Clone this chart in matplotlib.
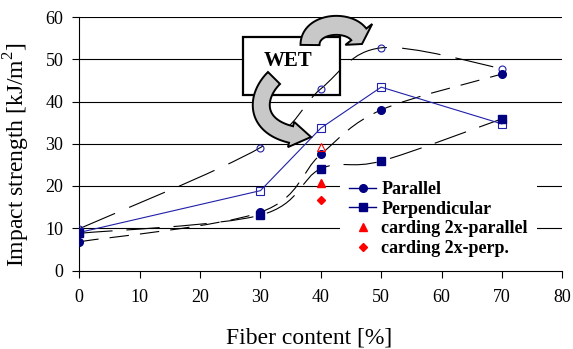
import matplotlib
matplotlib.use('Agg')
import matplotlib.pyplot as plt
import matplotlib.transforms as mtransforms
import numpy as np
from matplotlib.path import Path
from matplotlib.patches import PathPatch, Rectangle, Polygon
from matplotlib.lines import Line2D

plt.rcParams['font.family'] = ['Liberation Serif', 'DejaVu Serif']
plt.rcParams['mathtext.fontset'] = 'custom'
plt.rcParams['mathtext.rm'] = 'Liberation Serif'
plt.rcParams['lines.scale_dashes'] = False

# fiber content [%]
fiber = [0, 30, 40, 50, 70]
parallel = [6.8, 13.8, 27.5, 38.0, 46.5]
perpendicular = [8.8, 13.1, 24.1, 25.9, 35.9]
wet_parallel = [9.9, 29.1, 43.0, 52.7, 47.8]
wet_perpendicular = [9.0, 18.9, 33.7, 43.4, 34.7]

carding_x = [40]
carding_parallel = [20.6]
wet_carding_parallel = [29.3]
carding_perp = [16.7]

navy = '#000080'
blue = '#2020a8'
red = '#ff0000'

W, H = 573, 349


def smooth_path(xs, ys):
    # excel-like smoothed line (bezier through the points)
    p = np.column_stack([xs, ys]).astype(float)
    n = len(p)
    verts = [p[0]]
    codes = [Path.MOVETO]
    for i in range(n - 1):
        prev = p[i - 1] if i > 0 else p[i]
        nxt = p[i + 2] if i + 2 < n else p[i + 1]
        c1 = p[i] + (p[i + 1] - prev) / 6
        c2 = p[i + 1] - (nxt - p[i]) / 6
        verts += [c1, c2, p[i + 1]]
        codes += [Path.CURVE4] * 3
    return Path(verts, codes)


def block_arrow(pts, tail_w, head_w, head_len):
    # curved block arrow along a cubic bezier, in image pixels (y down)
    p0, c1, c2, p3 = [np.array(p, float) for p in pts]
    t = np.linspace(0, 1, 200)[:, None]
    curve = ((1 - t) ** 3 * p0 + 3 * (1 - t) ** 2 * t * c1
             + 3 * (1 - t) * t ** 2 * c2 + t ** 3 * p3)
    seg = np.linalg.norm(np.diff(curve, axis=0), axis=1)
    dist = np.concatenate([[0], np.cumsum(seg)])
    body = curve[dist <= dist[-1] - head_len]
    tang = np.gradient(body, axis=0)
    tang /= np.linalg.norm(tang, axis=1)[:, None]
    norm = np.column_stack([-tang[:, 1], tang[:, 0]])
    left = body + norm * tail_w / 2
    right = body - norm * tail_w / 2
    base = body[-1]
    hn = norm[-1] * head_w / 2
    verts = np.vstack([left, [base + hn], [p3], [base - hn], right[::-1]])
    verts[:, 1] = H - verts[:, 1]
    return verts


fig = plt.figure(figsize=(W / 100, H / 100), dpi=100)
ax = fig.add_axes([79.3 / W, 1 - 270.5 / H, 483 / W, 253.5 / H])
px = mtransforms.Affine2D().scale(1 / W, 1 / H) + fig.transFigure

ax.set_xlim(0, 80)
ax.set_ylim(0, 60)
ax.set_xticks(range(0, 81, 10))
ax.set_yticks(range(0, 61, 10))
for v in range(10, 61, 10):
    ax.axhline(v, color='black', lw=0.8, zorder=0.5)
for s in ['top', 'right']:
    ax.spines[s].set_visible(False)
for s in ['left', 'bottom']:
    ax.spines[s].set_linewidth(0.8)
ax.tick_params(direction='out', length=5, width=0.8, labelsize=13)
ax.tick_params(axis='x', pad=8)
ax.tick_params(axis='y', pad=6.5)

ax.set_xlabel('Fiber content [%]', fontsize=17)
ax.xaxis.set_label_coords(0.4756, -0.226)
ax.set_ylabel('Impact strength [kJ/m$^{2}$]', fontsize=17)
ax.yaxis.set_label_coords(-0.0986, 0.4556)

# WET box
ax.add_patch(Rectangle((27.1, 41.5), 16.1, 13.8, facecolor='white',
                       edgecolor='black', lw=1.6, zorder=1))
ax.text(34.65, 49.7, 'WET', fontsize=15, fontweight='bold',
        ha='center', va='center', zorder=1.1)

# trend lines
ax.add_patch(PathPatch(smooth_path(fiber, parallel), fill=False, color='black',
                       lw=0.8, linestyle=(0, (14, 8)), zorder=2))
ax.add_patch(PathPatch(smooth_path(fiber, perpendicular), fill=False, color='black',
                       lw=0.8, linestyle=(0, (24, 10)), zorder=2))
ax.add_patch(PathPatch(smooth_path(fiber, wet_parallel), fill=False, color='black',
                       lw=0.8, linestyle=(0, (28, 11)), zorder=2))
ax.plot(fiber, wet_perpendicular, color=blue, lw=0.8, zorder=2)

# markers
ax.plot(fiber, wet_parallel, 'o', ms=5, mfc='none', mec=blue, mew=0.8, zorder=3)
ax.plot(fiber, wet_perpendicular, 's', ms=5.5, mfc='none', mec=blue, mew=0.8, zorder=3)
ax.plot(fiber, parallel, 'o', ms=5.5, color=navy, zorder=3)
ax.plot(fiber, perpendicular, 's', ms=5.5, color=navy, zorder=3)
ax.plot(carding_x, wet_carding_parallel, '^', ms=5.5, mfc='none', mec=red, mew=0.8, zorder=3)
ax.plot(carding_x, carding_parallel, '^', ms=5.5, color=red, zorder=3)
ax.plot(carding_x, carding_perp, 'D', ms=4.5, color=red, zorder=3)

# curved arrows around the box
top_arrow = block_arrow([(310, 45), (310, 19), (362, 19), (362, 44)], 19, 34, 10)
low_arrow = block_arrow([(274, 78), (252, 100), (255, 135), (311, 137)], 17, 26, 20)
for verts in (top_arrow, low_arrow):
    fig.add_artist(Polygon(verts, closed=True, facecolor='#c8c8c8', edgecolor='black',
                           lw=1.4, transform=px, zorder=5))

handles = [
    Line2D([], [], color=navy, marker='o', ms=5.5, lw=1),
    Line2D([], [], color=navy, marker='s', ms=5.5, lw=1),
    Line2D([], [], color=red, marker='^', ms=5.5, lw=0),
    Line2D([], [], color=red, marker='D', ms=4.5, lw=0),
]
labels = ['Parallel', 'Perpendicular', 'carding 2x-parallel', 'carding 2x-perp.']
leg = ax.legend(handles, labels, loc='upper left', bbox_to_anchor=(340 / W, 1 - 172 / H),
                bbox_transform=fig.transFigure, frameon=True, fancybox=False,
                framealpha=1, edgecolor='none', facecolor='white',
                prop={'weight': 'bold', 'size': 13}, handlelength=1.5,
                handletextpad=0.28, labelspacing=0.15, borderpad=0.5, borderaxespad=0)
leg.set_zorder(4)

fig.savefig('out.png', dpi=100)
